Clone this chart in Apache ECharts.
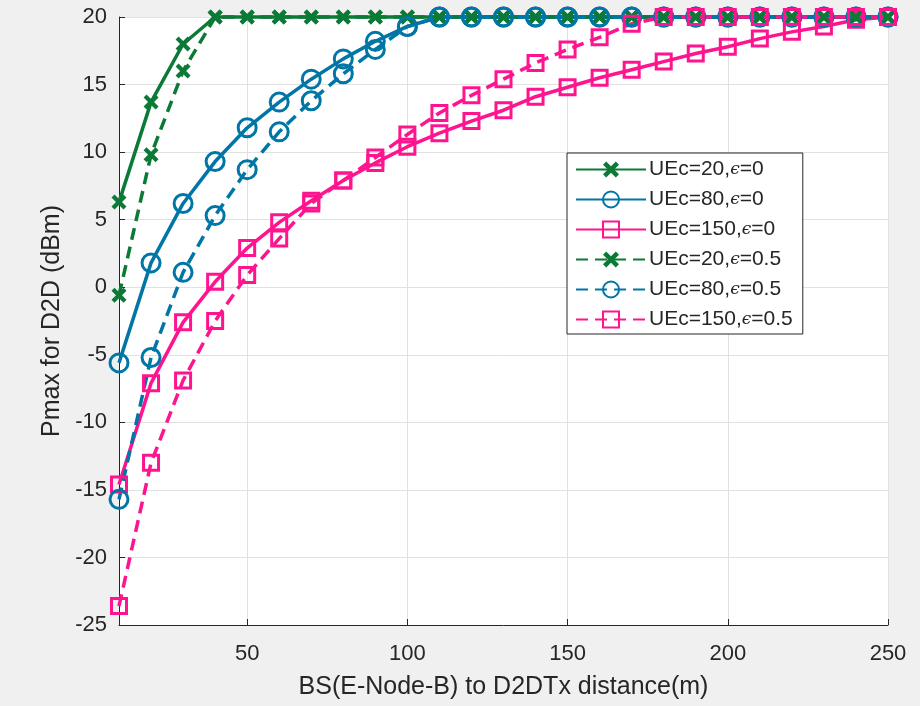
<!DOCTYPE html>
<html>
<head>
<meta charset="utf-8">
<script src="https://cdn.jsdelivr.net/npm/echarts@6/dist/echarts.min.js"></script>
<style>
  html, body { margin: 0; padding: 0; background: #f0f0f0; }
  #chart { width: 920px; height: 706px; }
</style>
</head>
<body>
<div id="chart"></div>
<script>
// distance (m)
const distance = [10, 20, 30, 40, 50, 60, 70, 80, 90, 100, 110, 120, 130,
  140, 150, 160, 170, 180, 190, 200, 210, 220, 230, 240, 250]
const xTicks = [50, 100, 150, 200, 250]

// Pmax (dBm)
const ue20e0 = [6.3, 13.7, 18.0, 20, 20, 20, 20, 20, 20, 20, 20, 20, 20,
  20, 20, 20, 20, 20, 20, 20, 20, 20, 20, 20, 20]
const ue80e0 = [-5.6, 1.8, 6.2, 9.3, 11.8, 13.7, 15.4, 16.9, 18.2, 19.3, 20, 20, 20,
  20, 20, 20, 20, 20, 20, 20, 20, 20, 20, 20, 20]
const ue150e0 = [-14.6, -7.1, -2.6, 0.4, 2.9, 4.8, 6.4, 7.9, 9.2, 10.4, 11.4, 12.3, 13.1,
  14.1, 14.8, 15.5, 16.1, 16.7, 17.3, 17.8, 18.4, 18.9, 19.3, 19.8, 20]
const ue20e05 = [-0.6, 9.8, 16.0, 20, 20, 20, 20, 20, 20, 20, 20, 20, 20,
  20, 20, 20, 20, 20, 20, 20, 20, 20, 20, 20, 20]
const ue80e05 = [-15.7, -5.2, 1.1, 5.3, 8.7, 11.5, 13.8, 15.8, 17.6, 19.3, 20, 20, 20,
  20, 20, 20, 20, 20, 20, 20, 20, 20, 20, 20, 20]
const ue150e05 = [-23.6, -13.0, -6.9, -2.5, 0.9, 3.6, 6.2, 7.9, 9.6, 11.3, 12.9, 14.2, 15.4,
  16.6, 17.6, 18.5, 19.5, 20, 20, 20, 20, 20, 20, 20, 20]

const GREEN = '#0b7a36'
const BLUE = '#0076a6'
const PINK = '#ff1490'
const XMARK = 'path://M0,2 L2,0 L5,3 L8,0 L10,2 L7,5 L10,8 L8,10 L5,7 L2,10 L0,8 L3,5 Z'

function pairs(ys) {
  return distance.map((d, i) => [d, ys[i]])
}

function makeSeries(name, ys, color, symbol, size, dashed) {
  const isX = symbol === XMARK
  return {
    name: name,
    type: 'line',
    data: pairs(ys),
    symbol: symbol,
    symbolSize: size,
    showAllSymbol: true,
    clip: false,
    lineStyle: {
      color: color,
      width: 3.5,
      type: dashed ? [12, 7] : 'solid'
    },
    itemStyle: {
      color: isX ? color : 'rgba(255,255,255,0)',
      borderColor: color,
      borderWidth: isX ? 0 : 3,
      opacity: 1
    },
    emphasis: { disabled: true }
  }
}

const chart = echarts.init(document.getElementById('chart'))
const axisColor = '#262626'
const option = {
  backgroundColor: '#f0f0f0',
  animation: false,
  textStyle: { fontFamily: 'Liberation Sans, Arial, sans-serif' },
  grid: {
    left: 119,
    right: 32,
    top: 17,
    bottom: 81,
    show: true,
    backgroundColor: '#fff',
    borderWidth: 0
  },
  legend: {
    orient: 'vertical',
    left: 567,
    top: 153,
    padding: [6, 10, 4, 8],
    itemWidth: 70,
    itemHeight: 20,
    itemGap: 9,
    backgroundColor: '#fff',
    borderColor: axisColor,
    borderWidth: 1,
    borderRadius: 0,
    formatter: function (name) {
      return name.replace('ϵ', '{e|ϵ}')
    },
    textStyle: {
      fontSize: 21,
      padding: [0, 0, 0, -2],
      color: axisColor,
      fontFamily: 'Liberation Sans, Arial, sans-serif',
      rich: {
        e: { fontSize: 17, fontStyle: 'italic', color: axisColor, fontFamily: 'DejaVu Serif' }
      }
    }
  },
  xAxis: {
    type: 'value',
    min: 10,
    max: 250,
    name: 'BS(E-Node-B) to D2DTx distance(m)',
    nameLocation: 'middle',
    nameGap: 50,
    nameTextStyle: { fontSize: 25, color: axisColor },
    axisLine: { show: true, onZero: false, lineStyle: { color: axisColor, width: 1 } },
    axisTick: { show: true, inside: true, length: 6, customValues: xTicks, lineStyle: { color: axisColor } },
    axisLabel: { fontSize: 22, color: axisColor, margin: 18, customValues: xTicks },
    splitLine: { show: true, lineStyle: { color: '#e1e1e1', width: 1 } }
  },
  yAxis: {
    type: 'value',
    min: -25,
    max: 20,
    interval: 5,
    name: 'Pmax for D2D (dBm)',
    nameLocation: 'middle',
    nameGap: 52,
    nameTextStyle: { fontSize: 25, color: axisColor },
    axisLine: { show: true, onZero: false, lineStyle: { color: axisColor, width: 1 } },
    axisTick: { show: true, inside: true, length: 6, lineStyle: { color: axisColor } },
    axisLabel: { fontSize: 22, color: axisColor, margin: 12 },
    splitLine: { show: true, lineStyle: { color: '#e1e1e1', width: 1 } }
  },
  series: [
    makeSeries('UEc=20,ϵ=0', ue20e0, GREEN, XMARK, 15, false),
    makeSeries('UEc=80,ϵ=0', ue80e0, BLUE, 'circle', 18, false),
    makeSeries('UEc=150,ϵ=0', ue150e0, PINK, 'rect', 15, false),
    makeSeries('UEc=20,ϵ=0.5', ue20e05, GREEN, XMARK, 15, true),
    makeSeries('UEc=80,ϵ=0.5', ue80e05, BLUE, 'circle', 18, true),
    makeSeries('UEc=150,ϵ=0.5', ue150e05, PINK, 'rect', 15, true)
  ]
}
chart.setOption(option)
</script>
</body>
</html>
